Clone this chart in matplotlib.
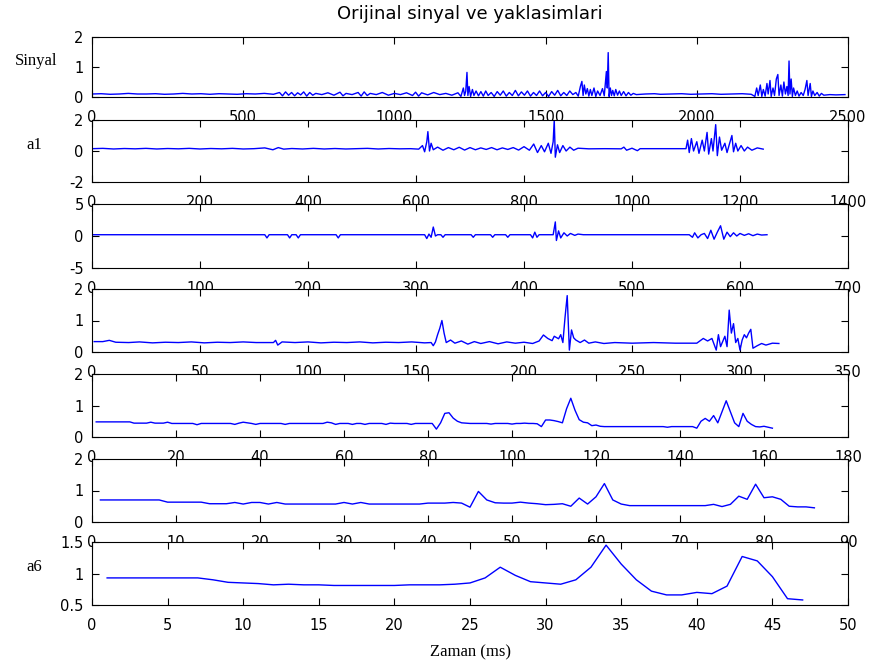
import matplotlib
matplotlib.use("Agg")
import matplotlib.pyplot as plt
import numpy as np
from matplotlib.ticker import FormatStrFormatter, MultipleLocator

# ---- data ----
sig_x = [1, 30, 60, 90, 120, 150, 180, 210, 240, 270, 300, 330, 360, 390, 420, 450, 480, 510, 540, 570,
         600, 620, 630, 640, 650, 660, 670, 680, 690, 700, 710, 720, 730, 740, 760, 780, 800, 820, 830, 840,
         860, 880, 890, 900, 910, 920, 940, 960, 980, 1000, 1020, 1040, 1060, 1070, 1080, 1090, 1110, 1130,
         1150, 1170, 1190, 1210, 1220, 1228, 1232, 1236, 1240, 1243, 1247, 1252, 1258, 1263, 1270, 1278,
         1286, 1294, 1302, 1310, 1320, 1330, 1340, 1350, 1360, 1370, 1380, 1390, 1400, 1410, 1420, 1430,
         1440, 1450, 1460, 1470, 1480, 1490, 1500, 1510, 1520, 1530, 1540, 1550, 1560, 1570, 1580, 1590,
         1600, 1608, 1615, 1620, 1624, 1628, 1633, 1638, 1643, 1648, 1653, 1660, 1666, 1672, 1680, 1688,
         1694, 1698, 1701, 1704, 1707, 1710, 1714, 1718, 1722, 1727, 1732, 1738, 1744, 1750, 1758, 1766,
         1774, 1782, 1790, 1800, 1830, 1860, 1880, 1920, 1950, 1980, 2010, 2050, 2080, 2110, 2150, 2180,
         2192, 2198, 2203, 2210, 2215, 2220, 2226, 2232, 2236, 2242, 2246, 2252, 2257, 2263, 2268, 2272,
         2278, 2283, 2288, 2293, 2298, 2302, 2305, 2308, 2312, 2316, 2320, 2326, 2332, 2338, 2345, 2352,
         2358, 2364, 2368, 2375, 2379, 2384, 2390, 2398, 2405, 2412, 2420, 2440, 2460, 2490]
sig_y = [0.10, 0.11, 0.09, 0.10, 0.12, 0.10, 0.10, 0.11, 0.09, 0.10, 0.12, 0.10, 0.11, 0.09, 0.11, 0.10,
         0.09, 0.11, 0.10, 0.12, 0.09, 0.15, 0.04, 0.17, 0.06, 0.15, 0.04, 0.14, 0.07, 0.17, 0.03, 0.15,
         0.06, 0.12, 0.08, 0.14, 0.06, 0.16, 0.04, 0.12, 0.08, 0.15, 0.03, 0.17, 0.05, 0.12, 0.08, 0.15,
         0.06, 0.12, 0.08, 0.14, 0.05, 0.16, 0.03, 0.14, 0.07, 0.15, 0.08, 0.12, 0.06, 0.14, 0.02, 0.30,
         0.05, 0.20, 0.82, 0.05, 0.35, 0.02, 0.25, 0.05, 0.20, 0.04, 0.18, 0.03, 0.20, 0.05, 0.15, 0.02,
         0.18, 0.06, 0.20, 0.03, 0.15, 0.05, 0.22, 0.04, 0.17, 0.06, 0.20, 0.03, 0.15, 0.05, 0.20, 0.04,
         0.15, 0.02, 0.18, 0.06, 0.22, 0.04, 0.15, 0.05, 0.20, 0.08, 0.15, 0.03, 0.35, 0.52, 0.05, 0.40,
         0.10, 0.28, 0.03, 0.25, 0.05, 0.30, 0.02, 0.20, 0.05, 0.28, 0.04, 0.50, 0.85, 0.30, 1.48, 0.02,
         0.30, 0.05, 0.22, 0.04, 0.25, 0.06, 0.20, 0.05, 0.18, 0.04, 0.15, 0.06, 0.12, 0.08, 0.10, 0.11,
         0.09, 0.10, 0.11, 0.09, 0.10, 0.11, 0.09, 0.10, 0.11, 0.09, 0.02, 0.30, 0.05, 0.40, 0.02, 0.25,
         0.03, 0.45, 0.10, 0.55, 0.02, 0.30, 0.05, 0.60, 0.75, 0.05, 0.40, 0.03, 0.50, 0.10, 0.35, 0.05,
         1.20, 0.10, 0.60, 0.02, 0.30, 0.05, 0.20, 0.03, 0.15, 0.05, 0.25, 0.55, 0.05, 0.45, 0.02, 0.20,
         0.05, 0.15, 0.03, 0.12, 0.06, 0.08, 0.07, 0.08]

a1_x = [1, 20, 40, 60, 80, 100, 120, 140, 160, 180, 200, 220, 240, 260, 280, 300, 320, 335, 345, 355,
        370, 390, 410, 430, 450, 470, 490, 510, 530, 550, 570, 590, 605, 612, 616, 620, 622, 625, 628, 632,
        640, 650, 660, 670, 680, 690, 700, 710, 720, 730, 740, 750, 760, 770, 780, 790, 800, 810, 818, 825,
        832, 838, 845, 850, 854, 856, 858, 862, 866, 872, 878, 885, 892, 900, 920, 950, 980, 985, 990, 1000,
        1010, 1015, 1040, 1070, 1100, 1103, 1106, 1110, 1114, 1120, 1124, 1130, 1134, 1139, 1142, 1147,
        1150, 1155, 1158, 1162, 1166, 1172, 1176, 1180, 1185, 1188, 1192, 1196, 1202, 1208, 1214, 1222,
        1232, 1243]
a1_y = [0.15, 0.17, 0.13, 0.16, 0.14, 0.17, 0.13, 0.16, 0.14, 0.17, 0.13, 0.16, 0.14, 0.17, 0.13, 0.15,
        0.20, 0.08, 0.22, 0.12, 0.16, 0.13, 0.17, 0.13, 0.16, 0.13, 0.15, 0.17, 0.13, 0.16, 0.14, 0.15,
        0.12, 0.35, -0.05, 0.60, 1.25, 0.00, 0.50, 0.08, 0.25, 0.05, 0.22, 0.08, 0.24, 0.06, 0.22, 0.08,
        0.20, 0.10, 0.22, 0.08, 0.20, 0.10, 0.22, 0.06, 0.28, 0.05, 0.45, -0.10, 0.35, -0.05, 0.50, -0.15,
        0.60, 2.00, -0.40, 0.40, -0.10, 0.35, 0.00, 0.25, 0.05, 0.18, 0.14, 0.15, 0.14, 0.25, 0.05, 0.18,
        0.02, 0.15, 0.15, 0.15, 0.15, 0.70, -0.10, 0.80, 0.00, 0.60, -0.15, 0.70, 0.00, 1.20, -0.20, 0.80,
        0.00, 1.70, -0.30, 0.90, 0.05, 0.50, -0.10, 0.40, 1.00, -0.05, 0.50, 0.00, 0.35, 0.00, 0.25, 0.05,
        0.20, 0.12]

a2_x = [1, 160, 162, 164, 181, 183, 185, 189, 191, 193, 226, 228, 230, 308, 310, 312, 314, 316, 318, 320,
        323, 325, 327, 351, 353, 355, 369, 371, 373, 383, 385, 387, 406, 408, 410, 412, 414, 427, 429, 430,
        432, 434, 437, 440, 443, 447, 450, 455, 553, 556, 558, 561, 564, 567, 570, 573, 576, 579, 582, 585,
        588, 591, 594, 597, 600, 604, 608, 612, 616, 620, 625]
a2_y = [0.2, 0.2, -0.3, 0.2, 0.2, -0.3, 0.2, 0.2, -0.3, 0.2, 0.2, -0.3, 0.2, 0.2, -0.4, 0.3, -0.2, 1.4,
        0.0, 0.2, 0.2, -0.2, 0.2, 0.2, -0.2, 0.2, 0.2, -0.2, 0.2, 0.2, -0.2, 0.2, 0.2, -0.3, 0.6, -0.2,
        0.2, 0.2, 2.2, -0.7, 0.8, -0.3, 0.5, 0.0, 0.4, 0.1, 0.3, 0.2, 0.2, -0.2, 0.5, -0.3, 0.2, 0.4,
        -0.4, 0.9, -0.5, 0.6, 1.6, -0.5, 0.6, -0.1, 0.5, 0.0, 0.4, 0.1, 0.35, 0.05, 0.3, 0.15, 0.2]

a3_x = [1, 5, 8, 11, 17, 22, 28, 34, 40, 46, 52, 58, 64, 70, 76, 84, 85, 86, 88, 94, 100, 106, 112, 118,
        124, 130, 136, 142, 148, 154, 157, 158, 159, 160, 161, 162, 163, 164, 166, 168, 171, 174, 177, 180,
        184, 188, 192, 196, 200, 204, 207, 209, 211, 213, 214, 216, 217, 218, 219, 220, 221, 222, 223, 224,
        226, 228, 230, 233, 237, 242, 250, 260, 270, 280, 283, 285, 287, 289, 290, 291, 293, 294, 295, 296,
        297, 298, 299, 300, 301, 302, 303, 304, 305, 306, 308, 310, 312, 315, 318]
a3_y = [0.33, 0.33, 0.37, 0.31, 0.30, 0.32, 0.29, 0.31, 0.30, 0.32, 0.29, 0.31, 0.30, 0.32, 0.30, 0.30,
        0.37, 0.22, 0.32, 0.30, 0.32, 0.29, 0.31, 0.30, 0.32, 0.29, 0.31, 0.30, 0.32, 0.29, 0.30, 0.20,
        0.32, 0.55, 0.75, 1.00, 0.60, 0.30, 0.38, 0.28, 0.35, 0.25, 0.33, 0.27, 0.33, 0.26, 0.32, 0.28,
        0.31, 0.27, 0.35, 0.54, 0.43, 0.36, 0.50, 0.42, 0.55, 0.30, 1.10, 1.79, 0.06, 0.70, 0.45, 0.38,
        0.30, 0.38, 0.28, 0.32, 0.27, 0.30, 0.28, 0.30, 0.28, 0.28, 0.43, 0.35, 0.43, 0.06, 0.55, 0.17,
        0.50, 0.17, 1.33, 0.60, 0.90, 0.30, 0.43, 0.06, 0.38, 0.55, 0.45, 0.60, 0.72, 0.12, 0.20, 0.27,
        0.22, 0.28, 0.27]

a4 = [0.48, 0.48, 0.48, 0.48, 0.48, 0.48, 0.48, 0.48, 0.48, 0.44,
      0.44, 0.44, 0.44, 0.47, 0.44, 0.44, 0.44, 0.47, 0.43, 0.43,
      0.43, 0.43, 0.43, 0.43, 0.39, 0.43, 0.43, 0.43, 0.43, 0.43,
      0.43, 0.43, 0.43, 0.40, 0.44, 0.47, 0.45, 0.43, 0.40, 0.43,
      0.43, 0.43, 0.43, 0.43, 0.43, 0.40, 0.43, 0.43, 0.43, 0.43,
      0.43, 0.43, 0.43, 0.43, 0.43, 0.47, 0.45, 0.40, 0.43, 0.43,
      0.43, 0.40, 0.43, 0.43, 0.40, 0.43, 0.43, 0.43, 0.43, 0.40,
      0.44, 0.43, 0.43, 0.43, 0.43, 0.40, 0.43, 0.43, 0.43, 0.43,
      0.43, 0.25, 0.45, 0.75, 0.77, 0.60, 0.50, 0.45, 0.44, 0.43,
      0.43, 0.43, 0.43, 0.43, 0.41, 0.43, 0.43, 0.43, 0.43, 0.41,
      0.43, 0.43, 0.44, 0.43, 0.43, 0.42, 0.33, 0.54, 0.54, 0.52,
      0.49, 0.45, 0.90, 1.23, 0.85, 0.55, 0.47, 0.45, 0.36, 0.38,
      0.34, 0.33, 0.33, 0.33, 0.33, 0.33, 0.33, 0.33, 0.33, 0.33,
      0.33, 0.33, 0.33, 0.33, 0.33, 0.33, 0.31, 0.33, 0.33, 0.33,
      0.33, 0.33, 0.33, 0.28, 0.50, 0.59, 0.50, 0.68, 0.45, 0.80,
      1.15, 0.80, 0.45, 0.33, 0.75, 0.50, 0.40, 0.33, 0.32, 0.34,
      0.31, 0.28]

a5 = [0.70, 0.70, 0.70, 0.70, 0.70, 0.70, 0.70, 0.70, 0.63, 0.63,
      0.63, 0.63, 0.63, 0.58, 0.58, 0.58, 0.62, 0.57, 0.62, 0.62,
      0.57, 0.62, 0.57, 0.57, 0.57, 0.57, 0.57, 0.57, 0.57, 0.62,
      0.57, 0.62, 0.57, 0.57, 0.57, 0.57, 0.57, 0.57, 0.57, 0.60,
      0.60, 0.60, 0.62, 0.60, 0.47, 0.97, 0.70, 0.61, 0.60, 0.60,
      0.63, 0.60, 0.58, 0.55, 0.56, 0.58, 0.50, 0.76, 0.57, 0.80,
      1.22, 0.70, 0.57, 0.52, 0.52, 0.52, 0.52, 0.52, 0.52, 0.52,
      0.52, 0.52, 0.52, 0.56, 0.49, 0.56, 0.82, 0.72, 1.20, 0.77,
      0.80, 0.72, 0.50, 0.48, 0.48, 0.45]

a6 = [0.93, 0.93, 0.93, 0.93, 0.93, 0.93, 0.93, 0.90, 0.86, 0.85,
      0.84, 0.82, 0.83, 0.82, 0.82, 0.81, 0.81, 0.81, 0.81, 0.81,
      0.82, 0.82, 0.82, 0.83, 0.85, 0.93, 1.10, 0.97, 0.87, 0.85,
      0.83, 0.90, 1.10, 1.45, 1.15, 0.90, 0.72, 0.66, 0.66, 0.70,
      0.68, 0.80, 1.27, 1.20, 0.95, 0.60, 0.58]

series = [
    (sig_x, sig_y),
    (a1_x, a1_y),
    (a2_x, a2_y),
    (a3_x, a3_y),
    (np.arange(1, len(a4) + 1), a4),
    (np.arange(1, len(a5) + 1), a5),
    (np.arange(1, len(a6) + 1), a6),
]
xlims = [2500, 1400, 700, 350, 180, 90, 50]
xsteps = [500, 200, 100, 50, 20, 10, 5]
ylims = [(0, 2), (-2, 2), (-5, 5), (0, 2), (0, 2), (0, 2), (0.5, 1.5)]
yticks = [[0, 1, 2], [-2, 0, 2], [-5, 0, 5], [0, 1, 2], [0, 1, 2], [0, 1, 2], [0.5, 1, 1.5]]
ylabels = {0: "Sinyal", 1: "a1", 6: "a6"}

# ---- layout (pixel rows of each axes in a 875x669 figure) ----
W, H = 875, 669
left_px, right_px = 92, 848
tops = [37, 120, 204, 289, 374, 459, 542]
bots = [97, 182, 268, 352, 437, 522, 605]

fig = plt.figure(figsize=(W / 100, H / 100), dpi=100)
fig.patch.set_facecolor("white")

axes = []
for i, (x, y) in enumerate(series):
    ax = fig.add_axes([left_px / W, 1 - bots[i] / H,
                       (right_px - left_px) / W, (bots[i] - tops[i]) / H])
    ax.plot(x, y, color="#0000ff", linewidth=1.0)
    ax.set_xlim(0, xlims[i])
    ax.set_ylim(*ylims[i])
    ax.xaxis.set_major_locator(MultipleLocator(xsteps[i]))
    ax.set_yticks(yticks[i])
    ax.yaxis.set_major_formatter(FormatStrFormatter("%g"))
    ax.tick_params(direction="in", top=True, right=True, length=5, width=0.8,
                   labelsize=10.5, colors="black")
    ax.tick_params(axis="x", pad=9.5)
    ax.tick_params(axis="y", pad=6)
    for sp in ax.spines.values():
        sp.set_linewidth(0.8)
        sp.set_color("black")
    if i in ylabels:
        ax.set_ylabel(ylabels[i], rotation=0, ha="right", va="center",
                      family="Liberation Serif", fontsize=12)
        ax.yaxis.set_label_coords(-0.046 if i == 0 else -0.066, 0.6)
    axes.append(ax)

axes[0].text(0.5, 1 + (37 - 14) / 60, "Orijinal sinyal ve yaklasimlari",
             transform=axes[0].transAxes, ha="center", va="center", fontsize=13)
axes[-1].set_xlabel("Zaman (ms)", family="Liberation Serif", fontsize=12)
axes[-1].xaxis.set_label_coords(0.5, -(652 - 605) / 63)
axes[-1].xaxis.label.set_va("center")

fig.savefig("out.png", dpi=100, facecolor="white")
